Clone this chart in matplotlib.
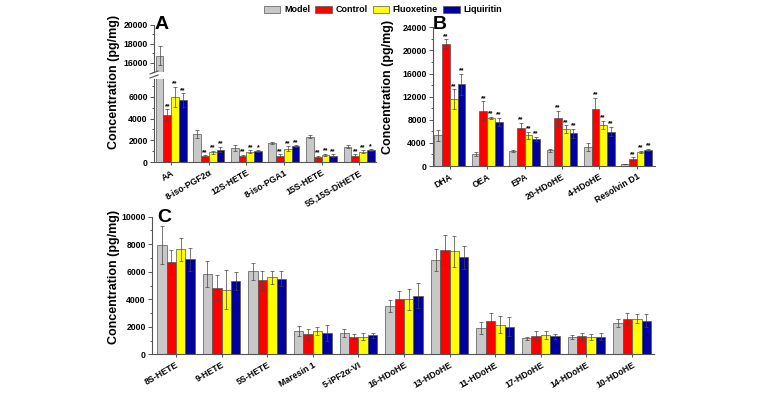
import numpy as np
import matplotlib.pyplot as plt
from matplotlib.patches import Patch

plt.rcParams['font.family'] = ['Liberation Sans', 'DejaVu Sans']
plt.rcParams['font.weight'] = 'bold'

GROUPS = ["Model", "Control", "Fluoxetine", "Liquiritin"]
COLORS = ["#C8C8C8", "#FF0000", "#FFFF00", "#0000A0"]
EDGE = "#555555"

# Panel A
a_names = ["AA", "8-iso-PGF2α", "12S-HETE", "8-iso-PGA1", "15S-HETE", "5S,15S-DiHETE"]
a_model = [16750, 2600, 1300, 1750, 2350, 1400]
a_model_err = [1000, 350, 250, 80, 120, 150]
a_control = [4350, 520, 580, 580, 460, 580]
a_control_err = [500, 100, 100, 120, 100, 120]
a_fluox = [6000, 900, 950, 1230, 650, 950]
a_fluox_err = [950, 150, 150, 200, 120, 150]
a_liq = [5700, 1140, 990, 1450, 590, 1080]
a_liq_err = [650, 250, 80, 80, 120, 100]
a_stars = [["", "**", "**", "**"], ["", "**", "**", "**"], ["", "**", "**", "*"],
           ["", "**", "**", "**"], ["", "**", "**", "**"], ["", "**", "**", "*"]]

# Panel B
b_names = ["DHA", "OEA", "EPA", "20-HDoHE", "4-HDoHE", "Resolvin D1"]
b_model = [5300, 2070, 2590, 2700, 3350, 350]
b_model_err = [900, 350, 250, 250, 700, 50]
b_control = [21100, 9600, 6600, 8300, 9800, 1270]
b_control_err = [850, 1600, 850, 1300, 2000, 250]
b_fluox = [11600, 8300, 5300, 6350, 7150, 2420]
b_fluox_err = [1700, 250, 600, 700, 700, 200]
b_liq = [14150, 7650, 4700, 5650, 5950, 2760]
b_liq_err = [1850, 700, 400, 800, 800, 200]
b_stars = [["", "**", "**", "**"]] * 6

# Panel C
c_names = ["8S-HETE", "9-HETE", "5S-HETE", "Maresin 1", "5-iPF2α-VI", "16-HDoHE",
           "13-HDoHE", "11-HDoHE", "17-HDoHE", "14-HDoHE", "10-HDoHE"]
c_model = [7940, 5840, 6030, 1700, 1550, 3510, 6830, 1910, 1160, 1260, 2300]
c_model_err = [1400, 950, 600, 350, 300, 400, 800, 450, 120, 150, 300]
c_control = [6680, 4840, 5380, 1450, 1280, 4020, 7580, 2420, 1360, 1310, 2590]
c_control_err = [900, 900, 700, 400, 200, 600, 1100, 600, 300, 250, 400]
c_fluox = [7630, 4700, 5590, 1700, 1280, 4000, 7480, 2150, 1400, 1260, 2590]
c_fluox_err = [850, 1400, 450, 300, 250, 750, 1100, 600, 300, 200, 350]
c_liq = [6900, 5350, 5500, 1550, 1380, 4260, 7040, 2010, 1300, 1280, 2450]
c_liq_err = [850, 650, 550, 600, 200, 900, 850, 700, 200, 250, 450]

W, H = 757, 394
BW = 0.206


def box(l, t, r, b):
    return [l / W, 1 - b / H, (r - l) / W, (b - t) / H]


def bars(ax, series, errs, ylim, stars=None):
    n = len(series[0])
    x = np.arange(n)
    for k in range(4):
        xs = x + (k - 1.5) * BW
        ax.bar(xs, series[k], BW, color=COLORS[k], edgecolor=EDGE, linewidth=0.5, zorder=2)
        ax.errorbar(xs, series[k], yerr=errs[k], fmt='none', ecolor='#444444',
                    elinewidth=0.5, capsize=1.3, capthick=0.5, zorder=3)
        if stars is None:
            continue
        for i in range(n):
            s = stars[i][k]
            top = series[k][i] + errs[k][i]
            if s and ylim[0] <= top <= ylim[1]:
                ax.annotate(s, (xs[i], top), xytext=(0, -0.5), textcoords='offset points',
                            ha='center', va='bottom', fontsize=5, fontweight='bold')


def style(ax, ylim, xlim, major, minor, names, labels=True):
    ax.set_ylim(*ylim)
    ax.set_xlim(*xlim)
    ax.set_yticks(major)
    ax.set_yticks(minor, minor=True)
    ax.set_xticks(range(len(names)))
    if labels:
        ax.set_xticklabels(names, rotation=30, ha='right', rotation_mode='anchor',
                           fontsize=6.3, fontweight='bold')
    else:
        ax.set_xticklabels([])
    for s in ['top', 'right']:
        ax.spines[s].set_visible(False)
    for s in ['left', 'bottom']:
        ax.spines[s].set_color(EDGE)
        ax.spines[s].set_linewidth(0.8)
    ax.tick_params(axis='both', which='both', direction='out', color=EDGE, width=0.7)
    ax.tick_params(axis='y', which='major', length=3, labelsize=6.2, pad=1.5)
    ax.tick_params(axis='y', which='minor', length=1.8)
    ax.tick_params(axis='x', length=2.5, pad=2)
    for t in ax.get_yticklabels():
        t.set_fontweight('bold')


fig = plt.figure(figsize=(W / 100, H / 100), dpi=100)

# Panel A (broken axis)
a_series = [a_model, a_control, a_fluox, a_liq]
a_errs = [a_model_err, a_control_err, a_fluox_err, a_liq_err]
axa_hi = fig.add_axes(box(154, 25, 376, 72))
axa_lo = fig.add_axes(box(154, 79, 376, 162))
bars(axa_hi, a_series, a_errs, (15000, 20000), a_stars)
bars(axa_lo, a_series, a_errs, (0, 7650), a_stars)
style(axa_hi, (15000, 20000), (-0.457, 5.447), [16000, 18000, 20000],
      [15000, 17000, 19000], a_names, labels=False)
axa_hi.spines['bottom'].set_visible(False)
axa_hi.tick_params(axis='x', length=0)
style(axa_lo, (0, 7650), (-0.457, 5.447), [0, 2000, 4000, 6000],
      [1000, 3000, 5000, 7000], a_names)
# break marks on the y axis
for dy in (-3, 1):
    y = 1 - (75.5 + dy) / H
    fig.add_artist(plt.Line2D([150 / W, 158 / W], [y - 1.5 / H, y + 1.5 / H],
                              color=EDGE, lw=0.8))
fig.text(162 / W, 1 - 24.5 / H, "A", fontsize=14, fontweight='bold', ha='center', va='center')

# Panel B
axb = fig.add_axes(box(433, 27.3, 655, 166))
bars(axb, [b_model, b_control, b_fluox, b_liq],
     [b_model_err, b_control_err, b_fluox_err, b_liq_err], (0, 24000), b_stars)
style(axb, (0, 24000), (-0.45, 5.49), np.arange(0, 24001, 4000),
      np.arange(2000, 24000, 4000), b_names)
fig.text(440 / W, 1 - 24.5 / H, "B", fontsize=14, fontweight='bold', ha='center', va='center')

# Panel C
axc = fig.add_axes(box(152, 216.7, 654, 354.3))
bars(axc, [c_model, c_control, c_fluox, c_liq],
     [c_model_err, c_control_err, c_fluox_err, c_liq_err], (0, 10000))
style(axc, (0, 10000), (-0.525, 10.48), np.arange(0, 10001, 2000),
      np.arange(1000, 10000, 2000), c_names)
fig.text(164 / W, 1 - 217 / H, "C", fontsize=14, fontweight='bold', ha='center', va='center')

for x, y in ((114, 82), (388, 87), (114, 277)):
    fig.text(x / W, 1 - y / H, "Concentration (pg/mg)", rotation=90, fontsize=9,
             fontweight='bold', ha='center', va='center')

handles = [Patch(facecolor=c, edgecolor=EDGE, linewidth=0.5) for c in COLORS]
fig.legend(handles, GROUPS, loc='upper center', bbox_to_anchor=(383 / W, 1.0), ncol=4,
           frameon=False, prop={'size': 6.5, 'weight': 'bold'}, handlelength=1.8,
           handleheight=0.9, handletextpad=0.4, columnspacing=0.6, borderaxespad=0.2)

fig.savefig("out.png", dpi=100)
